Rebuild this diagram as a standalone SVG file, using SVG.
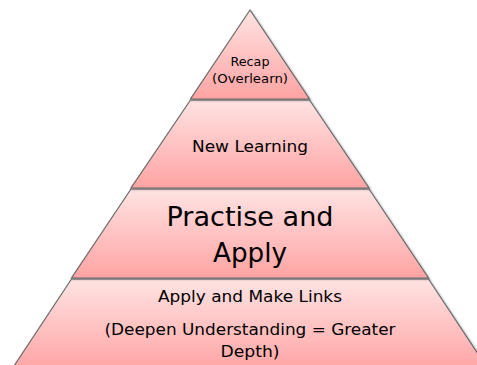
<svg xmlns="http://www.w3.org/2000/svg" width="477" height="365" viewBox="0 0 477 365">
<defs>
<linearGradient id="g" x1="0" y1="0" x2="0" y2="1">
<stop offset="0" stop-color="#FFE3E3"/>
<stop offset="1" stop-color="#FFA3A3"/>
</linearGradient>
<filter id="sh" x="-5%" y="-5%" width="110%" height="110%">
<feDropShadow dx="1" dy="1" stdDeviation="0.8" flood-color="#000" flood-opacity="0.35"/>
</filter>
</defs>
<style>
.layer{fill:url(#g);stroke:#6a6a6a;stroke-width:1.2;stroke-linejoin:miter}
text{font-family:"Comic Sans MS","DejaVu Sans",sans-serif;fill:#000;text-anchor:middle}
</style>
<rect width="477" height="365" fill="#fff"/>
<g id="layer4">
<polygon class="layer" filter="url(#sh)" points="71.5,279 428.5,279 490,372 10,372"/>
<text x="250" y="302" font-size="16" textLength="184" lengthAdjust="spacingAndGlyphs">Apply and Make Links</text>
<text x="250" y="335" font-size="16" textLength="291" lengthAdjust="spacingAndGlyphs">(Deepen Understanding = Greater</text>
<text x="250" y="357" font-size="16" textLength="59" lengthAdjust="spacingAndGlyphs">Depth)</text>
</g>
<g id="layer3">
<polygon class="layer" filter="url(#sh)" points="131,189 369,189 428.5,278 71.5,278"/>
<text x="250" y="226" font-size="27" textLength="167" lengthAdjust="spacingAndGlyphs">Practise and</text>
<text x="250" y="262" font-size="27" textLength="74" lengthAdjust="spacingAndGlyphs">Apply</text>
</g>
<g id="layer2">
<polygon class="layer" filter="url(#sh)" points="190.5,100 309.5,100 369,188 131,188"/>
<text x="250" y="152" font-size="15" textLength="116" lengthAdjust="spacingAndGlyphs">New Learning</text>
</g>
<g id="layer1">
<polygon class="layer" filter="url(#sh)" points="250,10 309.5,99 190.5,99"/>
<text x="250" y="66" font-size="11.5" textLength="39" lengthAdjust="spacingAndGlyphs">Recap</text>
<text x="250" y="83" font-size="11.5" textLength="76" lengthAdjust="spacingAndGlyphs">(Overlearn)</text>
</g>
</svg>
